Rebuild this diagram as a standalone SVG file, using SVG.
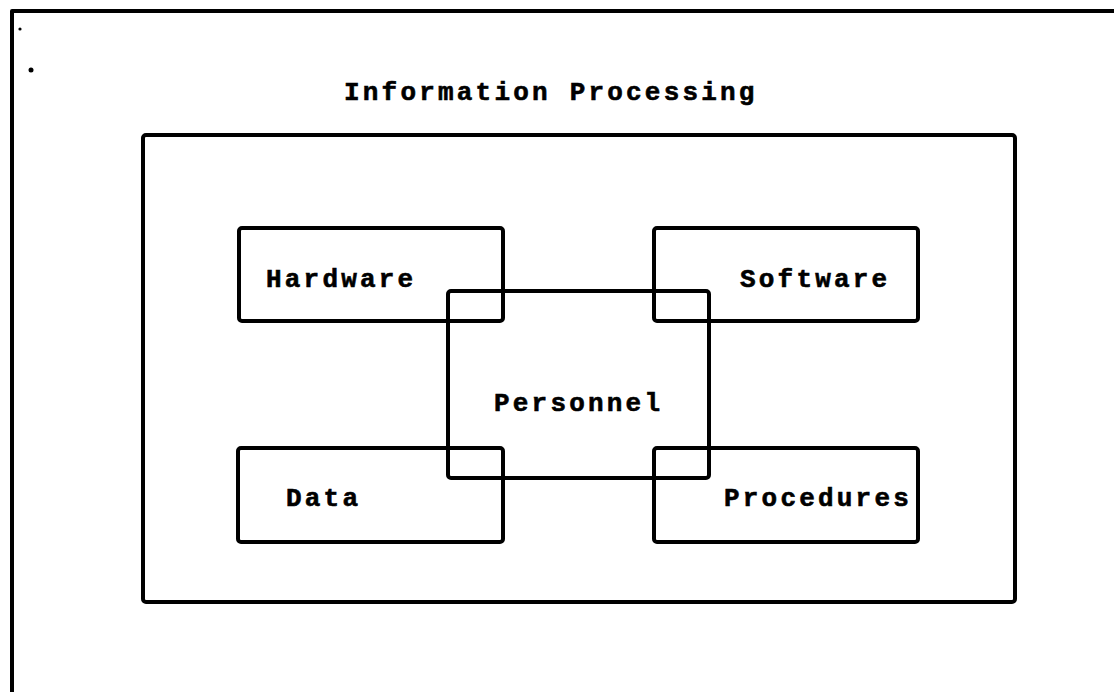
<svg xmlns="http://www.w3.org/2000/svg" width="1114" height="692" viewBox="0 0 1114 692">
<style>
.box{fill:none;stroke:#000;stroke-width:4;stroke-linejoin:round}
.lbl{font-family:"Liberation Mono","DejaVu Sans Mono",monospace;font-weight:bold;font-size:26px;letter-spacing:3.2px;fill:#000;stroke:#000;stroke-width:0.6px}
</style>
<rect width="1114" height="692" fill="#fff"/>
<g id="frame">
<path class="box" d="M12,700 L12,11 L1130,11"/>
<circle cx="20" cy="29" r="1.6" fill="#000"/>
<circle cx="31" cy="70" r="2.5" fill="#000"/>
</g>
<g id="information-processing">
<rect class="box" x="143" y="135" width="872" height="467" rx="3"/>
<text class="lbl" x="344" y="100">Information Processing</text>
</g>
<g id="hardware">
<rect class="box" x="239" y="228" width="264" height="93" rx="3"/>
<text class="lbl" x="266" y="287">Hardware</text>
</g>
<g id="software">
<rect class="box" x="654" y="228" width="264" height="93" rx="3"/>
<text class="lbl" x="740" y="287">Software</text>
</g>
<g id="personnel">
<rect class="box" x="448" y="291" width="261" height="187" rx="3"/>
<text class="lbl" x="494" y="411">Personnel</text>
</g>
<g id="data">
<rect class="box" x="238" y="448" width="265" height="94" rx="3"/>
<text class="lbl" x="286" y="506">Data</text>
</g>
<g id="procedures">
<rect class="box" x="654" y="448" width="264" height="94" rx="3"/>
<text class="lbl" x="724" y="506">Procedures</text>
</g>
<g id="connectors"></g>
</svg>
